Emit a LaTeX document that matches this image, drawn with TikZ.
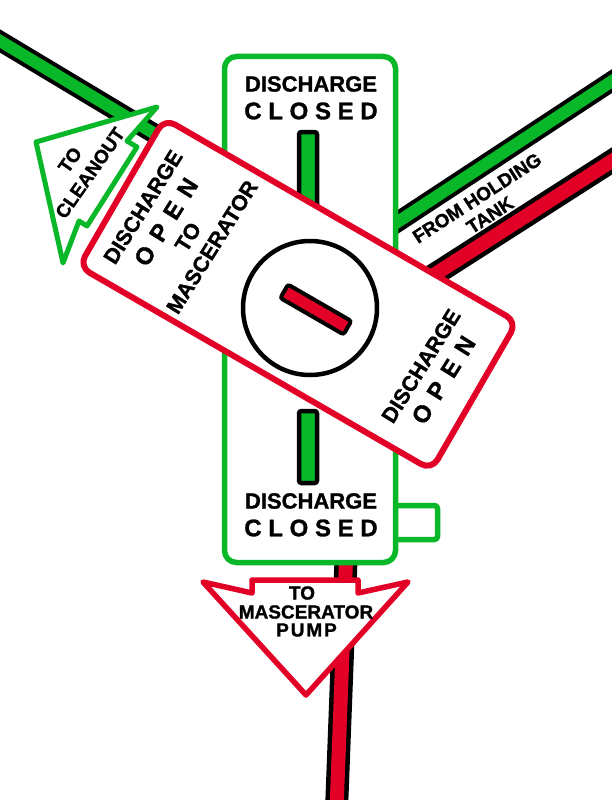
\documentclass[tikz,border=0pt]{standalone}
\usepackage{fontspec}
\setmainfont{Liberation Sans}[BoldFont={Liberation Sans Bold},BoldFeatures={FakeBold=1.2}]
\definecolor{valvegreen}{RGB}{8,184,40}
\definecolor{valvered}{RGB}{226,0,38}
\newcommand{\wideletters}[1]{\spaceskip=.42em\relax #1}
\tikzstyle{greenpipe}=[draw=black,line width=4pt,double distance=12pt,double=valvegreen]
\tikzstyle{redpipe}=[draw=black,line width=4.5pt,double distance=14pt,double=valvered]
\tikzstyle{slot}=[draw=black,fill=valvegreen,line width=4.5pt,rounded corners=2.5pt]
\tikzstyle{greenline}=[draw=valvegreen,fill=white,line width=5.5pt,line join=round]
\tikzstyle{redline}=[draw=valvered,fill=white,line width=6pt,line join=round]
\tikzstyle{lettering}=[font=\bfseries,inner sep=0pt,align=center]
\tikzstyle{bigtext}=[lettering,font=\bfseries\fontsize{22}{24}\selectfont]
\tikzstyle{bigspaced}=[lettering,font=\bfseries\fontsize{24}{26}\selectfont]
\tikzstyle{dialtext}=[lettering,font=\bfseries\fontsize{21.5}{24}\selectfont,rotate=58]
\tikzstyle{dialspaced}=[lettering,font=\bfseries\fontsize{24}{26}\selectfont,rotate=58]
\tikzstyle{smalltext}=[lettering,font=\bfseries\fontsize{19}{21}\selectfont]

\begin{document}
\begin{tikzpicture}[x=1pt,y=-1pt]
\useasboundingbox (0,0) rectangle (612,800);

\draw [greenpipe] (-10,35) -- (170,143);
\draw [greenpipe] (622,74.5) -- (390,227);
\draw [redpipe] (622,154.5) -- (415,287);
\draw [redpipe] (346,560) -- (336.5,810);

\draw [greenline,rounded corners=3pt] (385,505.5) -- (437.5,505.5) -- (437.5,539.5) -- (385,539.5);
\node (closedbox) at (310,309.5) [greenline,rounded corners=12pt,minimum width=171pt,minimum height=506pt] {};
\draw [slot] (299,260) rectangle (317,132);
\draw [slot] (299,411) rectangle (317,483);

\node (closedtop) at (311,84) [bigtext] {DISCHARGE};
\node (closedtoptwo) at (311,111) [bigspaced] {C L O S E D};
\node (closedbottom) at (311,501) [bigtext] {DISCHARGE};
\node (closedbottomtwo) at (311,528) [bigspaced] {C L O S E D};

\node (openbox) at (298,294.3) [redline,rotate=-30,rounded corners=12pt,minimum width=407pt,minimum height=171pt] {};
\node (dial) at (310,308) [circle,draw=black,fill=white,line width=4.5pt,minimum size=134pt,inner sep=0pt] {};
\node (handle) at (315.8,309.5) [draw=black,fill=valvered,line width=4pt,rounded corners=2.5pt,rotate=-30,minimum width=73pt,minimum height=15.5pt,inner sep=0pt] {};

\node (openleft) at (143,207) [dialtext] {DISCHARGE};
\node (openlefttwo) at (166,222) [dialspaced] {\wideletters{O P E N}};
\node (toleft) at (188,237) [dialtext] {TO};
\node (macerleft) at (212,247) [dialtext] {MASCERATOR};
\node (openright) at (421,366) [dialtext] {DISCHARGE};
\node (openrighttwo) at (443.5,380) [dialspaced] {\wideletters{O P E N}};

\node (holding) at (477,198) [smalltext,rotate=33] {FROM HOLDING};
\node (tank) at (490,215) [smalltext,rotate=33] {TANK};

\draw [greenline,line width=5pt] (157,107) -- (36,142) -- (63,263) -- (79,221) -- (87,226) -- (137,147) -- (127,141) -- cycle;
\node (cleanoutto) at (70,160) [smalltext,rotate=55] {TO};
\node (cleanout) at (90,173) [smalltext,rotate=55] {CLEANOUT};

\draw [redline,line width=5.5pt] (203,582) -- (252,593) -- (252,580) -- (358,580) -- (358,593) -- (408,582) -- (306,695) -- cycle;
\node (pumpto) at (302,593) [smalltext] {TO};
\node (macerpump) at (306,612) [smalltext] {MASCERATOR};
\node (pump) at (306.5,630) [smalltext] {\addfontfeature{LetterSpace=10}PUMP};
\end{tikzpicture}
\end{document}
